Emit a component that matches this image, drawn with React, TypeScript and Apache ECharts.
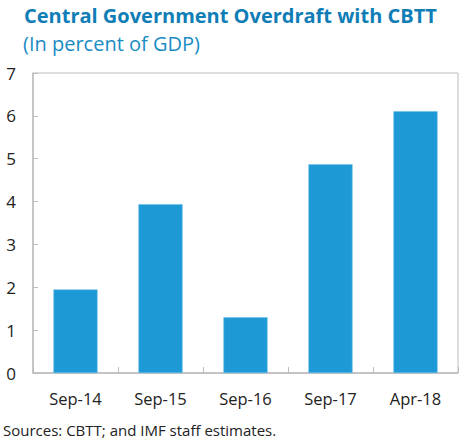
import React, { useEffect, useRef } from "react";
import * as echarts from "echarts";

const categories = ["Sep-14", "Sep-15", "Sep-16", "Sep-17", "Apr-18"];
const values = [1.95, 3.94, 1.3, 4.87, 6.11];
const titleText = "Central Government Overdraft with CBTT";
const subtitleText = "(In percent of GDP)";
const sourceText = "Sources: CBTT; and IMF staff estimates.";

const FONT = "'Open Sans', 'Noto Sans', sans-serif";

export default function App() {
  const ref = useRef<HTMLDivElement>(null);
  useEffect(() => {
    if (!ref.current) return;
    const chart = echarts.init(ref.current, undefined, { renderer: "svg" });
    chart.setOption({
      animation: false,
      backgroundColor: "#ffffff",
      grid: {
        left: 33,
        right: 2,
        top: 73,
        bottom: 71,
        show: true,
        borderColor: "#bcbcbc",
        borderWidth: 1,
        containLabel: false,
      },
      graphic: [
        {
          type: "text",
          left: 24,
          top: 5,
          style: {
            text: titleText,
            font: `bold 20px ${FONT}`,
            fill: "#0f7db6",
          },
        },
        {
          type: "text",
          left: 23,
          top: 33,
          style: {
            text: subtitleText,
            font: `20px ${FONT}`,
            fill: "#1a8cc4",
          },
        },
        {
          type: "text",
          left: 3,
          top: 422,
          style: {
            text: sourceText,
            font: `15px ${FONT}`,
            fill: "#222222",
          },
        },
      ],
      xAxis: {
        type: "category",
        data: categories,
        axisLine: { show: true, lineStyle: { color: "#bcbcbc", width: 1.5 } },
        axisTick: {
          show: true,
          inside: true,
          length: 6,
          alignWithLabel: false,
          lineStyle: { color: "#bcbcbc" },
        },
        axisLabel: {
          margin: 17,
          fontSize: 16.5,
          fontFamily: FONT,
          color: "#222222",
        },
      },
      yAxis: {
        type: "value",
        min: 0,
        max: 7,
        interval: 1,
        splitLine: { show: false },
        axisLine: { show: true, lineStyle: { color: "#bcbcbc", width: 1.5 } },
        axisTick: {
          show: true,
          inside: true,
          length: 5,
          lineStyle: { color: "#bcbcbc" },
        },
        axisLabel: {
          margin: 17,
          fontSize: 17,
          fontFamily: FONT,
          color: "#222222",
        },
      },
      series: [
        {
          type: "bar",
          data: values,
          barWidth: "52%",
          itemStyle: {
            color: "#1d9ad6",
            borderColor: "#6cc0e8",
            borderWidth: 0.6,
          },
        },
      ],
    });
    return () => chart.dispose();
  }, []);
  return (
    <div
      ref={ref}
      style={{ position: "absolute", left: 0, top: 0, width: 460, height: 444 }}
    />
  );
}
